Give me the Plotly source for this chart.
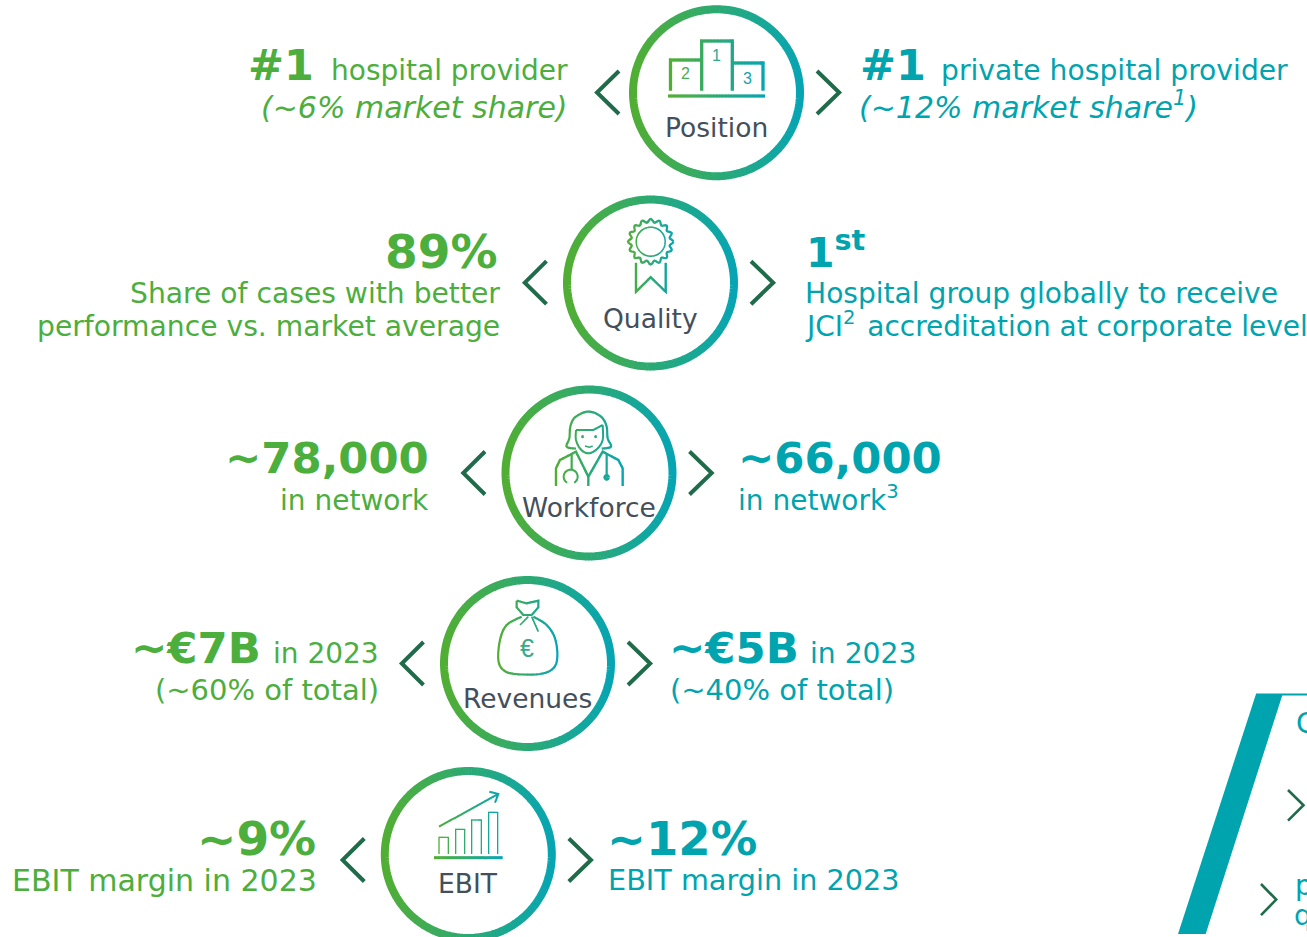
import math
import plotly.graph_objects as go

# ---- content ----
circle_labels = ["Position", "Quality", "Workforce", "Revenues", "EBIT"]
left_heads = ["#1", "89%", "~78,000", "~€7B", "~9%"]
right_heads = ["#1", "1<sup>st</sup>", "~66,000", "~€5B", "~12%"]
left_line1 = ["hospital provider", "Share of cases with better", "in network", "in 2023", "EBIT margin in 2023"]
left_line2 = ["<i>(~6% market share)</i>", "performance vs. market average", "", "(~60% of total)", ""]
right_line1 = ["private hospital provider", "Hospital group globally to receive", "in network<sup>3</sup>", "in 2023", "EBIT margin in 2023"]
right_line2 = ["<i>(~12% market share<sup>1</sup>)</i>", "JCI<sup>2</sup>\u200a accreditation at corporate level", "", "(~40% of total)", ""]
podium_digits = ["1", "2", "3"]
panel_letters = ["C", "p", "q"]

# ---- layout constants ----
FONT = "DejaVu Sans"
GREEN, TEAL, DARK, GREY = "#4CAE3C", "#00A4AE", "#1F6B4A", "#434F5A"
centers = [(716.5, 92.7), (650.5, 283), (589, 473), (527.5, 663.5), (468.3, 854.5)]
chev_y = [92.5, 282.7, 473, 663.5, 860]
chev_left = [(-119.5, -97.5), (-125.7, -104), (-125.7, -104), (-125.7, -104), (-125.7, -104)]
lh_pos = [(315, 65), (499, 251), (430, 458), (262, 648), (317, 838)]
rh_pos = [(859, 65), (805, 250), (737, 458), (668, 648), (606, 839)]
l1_pos = [(569, 70), (501, 293), (430, 500), (380, 653), (318, 880)]
l2_pos = [(569, 107), (501, 326), None, (380, 690), None]
r1_pos = [(940, 70), (804, 293), (737, 498), (809, 653), (607, 880)]
r2_pos = [(858, 105), (804, 324), None, (669, 690), None]
label_y = [127, 318, 507, 698, 883]
left_head_size = [43, 47, 43.4, 43.4, 47]
right_head_size = [43, 41, 43.4, 43.4, 46.5]
left_l1_size = [28, 28.2, 28, 28, 30]
right_l1_size = [28.2, 28.1, 28, 28.2, 28.7]
left_l2_size = [30, 28.2, 28, 29, 28]
right_l2_size = [30, 28, 28, 29, 28]

C0, C1 = (82, 174, 50), (5, 165, 180)
BINS = 48
buckets = {}


def color(i):
    t = i / (BINS - 1)
    return "rgb(%d,%d,%d)" % tuple(round(a + (b - a) * t) for a, b in zip(C0, C1))


def stroke(points, width, x0, x1):
    """Polyline with a left-to-right gradient, one continuous sub-path per colour bin."""
    def flush(run, i):
        if i is not None and len(run) > 1:
            d = "M" + " L".join("%.2f %.2f" % p for p in run)
            buckets.setdefault((i, width), []).append(d)

    cur_i, run = None, []
    for (ax, ay), (bx, by) in zip(points, points[1:]):
        length = math.hypot(bx - ax, by - ay)
        if length == 0:
            continue
        n = max(1, int(length / 3))
        ux, uy = (bx - ax) / length, (by - ay) / length
        for k in range(n):
            p = (ax + (bx - ax) * k / n, ay + (by - ay) * k / n)
            q = (ax + (bx - ax) * (k + 1) / n, ay + (by - ay) * (k + 1) / n)
            t = ((p[0] + q[0]) / 2 - x0) / (x1 - x0)
            i = min(BINS - 1, max(0, int(t * BINS)))
            if i != cur_i:
                if run:
                    run.append((p[0] + ux * 0.5, p[1] + uy * 0.5))
                flush(run, cur_i)
                cur_i, run = i, [p]
            run.append(q)
    flush(run, cur_i)


def arc(cx, cy, r, a0=0, a1=360, n=90):
    return [(cx + r * math.cos(math.radians(a0 + (a1 - a0) * k / n)),
             cy + r * math.sin(math.radians(a0 + (a1 - a0) * k / n))) for k in range(n + 1)]


def zoom(points, ox, oy):
    return [(ox + x / 3, oy + y / 3) for x, y in points]


def smooth(points, steps=6):
    """Catmull-Rom rounding of a hand-placed outline."""
    pts = [points[0]] + list(points) + [points[-1]]
    out = []
    for a, b, c, d in zip(pts, pts[1:], pts[2:], pts[3:]):
        for s in range(steps):
            t = s / steps
            out.append(tuple(0.5 * (2 * b[j] + (c[j] - a[j]) * t + (2 * a[j] - 5 * b[j] + 4 * c[j] - d[j]) * t * t
                                    + (3 * b[j] - a[j] - 3 * c[j] + d[j]) * t ** 3) for j in (0, 1)))
    out.append(points[-1])
    return out


shapes = []


def chevrons(cx, y, left):
    for tip, arm in ((cx + left[0], cx + left[1]), (cx + 122.7, cx + 100.5)):
        shapes.append(dict(type="path", xref="x", yref="y", layer="above",
                           path=f"M{arm} {y - 21.5} L{tip} {y} L{arm} {y + 21.5}",
                           line=dict(color=DARK, width=4), fillcolor="rgba(0,0,0,0)"))


for (cx, cy), yc, lf in zip(centers, chev_y, chev_left):
    stroke(arc(cx, cy, 83.5, n=180), 8, cx - 87.5, cx + 87.5)
    chevrons(cx, yc, lf)

# Position icon: podium
x0, x1 = 668, 765
stroke([(670.5, 90.7), (670.5, 60), (701.7, 60)], 3.3, x0, x1)
stroke([(701.7, 90.7), (701.7, 41), (732.3, 41), (732.3, 90.7)], 3.3, x0, x1)
stroke([(732.3, 63), (763, 63), (763, 90.7)], 3.3, x0, x1)
stroke([(668, 96), (765, 96)], 3.2, x0, x1)

# Quality icon: rosette
cx, cy = 650.7, 241.7
x0, x1 = cx - 24, cx + 24
scallop = [(cx + (21 + 1.7 * math.cos(math.radians(16 * a))) * math.cos(math.radians(a)),
            cy + (21 + 1.7 * math.cos(math.radians(16 * a))) * math.sin(math.radians(a)))
           for a in range(0, 361, 3)]
stroke(scallop, 2.2, x0, x1)
stroke(arc(cx, cy, 14.5), 1.5, x0, x1)
stroke([(636, 262.7), (636, 291.7), (650.7, 277.3), (665.7, 291.7), (665.7, 262.7)], 2.4, x0, x1)

# Workforce icon: doctor
ox, oy = 450, 380
x0, x1 = 450 + 318 / 3, 450 + 518 / 3
stroke(zoom(smooth([(378, 206), (350, 200), (358, 175), (361, 140), (372, 115), (395, 100), (415, 95), (437, 100),
                    (458, 115), (470, 140), (473, 175), (483, 200), (455, 206)]), ox, oy), 2.2, x0, x1)
stroke(zoom(smooth([(378, 150), (378, 180), (392, 208), (415, 220), (440, 208), (458, 180), (458, 135)]), ox, oy), 2, x0, x1)
for pts, w in (
    ([(458, 135), (430, 150), (378, 150)], 2),
    ([(405, 198), (418, 202), (428, 198)], 1.5),
    ([(318, 318), (318, 265), (330, 240), (378, 215), (415, 290), (458, 215), (505, 240), (518, 265), (518, 318)], 2.4),
    ([(415, 290), (415, 318)], 2.4),
    ([(365, 225), (365, 268)], 2.2),
    ([(470, 225), (470, 285)], 2.2),
):
    stroke(zoom(pts, ox, oy), w, x0, x1)
stroke(arc(450 + 362 / 3, 380 + 290 / 3, 7, 120, 420, 30), 2, x0, x1)
stroke(arc(450 + 470 / 3, 380 + 292 / 3, 1.8, n=20), 3, x0, x1)
stroke(arc(450 + 398 / 3, 380 + 170 / 3, 0.7, n=8), 1.6, x0, x1)
stroke(arc(450 + 437 / 3, 380 + 170 / 3, 0.7, n=8), 1.6, x0, x1)

# Revenues icon: money bag
ox, oy = 390, 570
x0, x1 = 390 + 325 / 3, 390 + 502 / 3
stroke(zoom(smooth([(395, 140), (350, 165), (330, 210), (325, 270), (340, 300), (375, 312), (450, 312), (490, 295),
                    (502, 260), (495, 205), (470, 165), (430, 140)]), ox, oy), 2.2, x0, x1)
for pts, w in (
    ([(380, 92), (410, 100), (445, 92), (445, 112), (425, 135), (400, 135), (380, 112), (380, 92)], 2.2),
    ([(415, 140), (390, 165)], 1.6),
    ([(425, 140), (445, 185)], 1.6),
):
    stroke(zoom(pts, ox, oy), w, x0, x1)

# EBIT icon: bars and arrow
ox, oy = 330, 760
x0, x1 = 330 + 312 / 3, 330 + 518 / 3
for pts, w in (
    ([(327, 282), (327, 232), (355, 232), (355, 282)], 1.3),
    ([(377, 282), (377, 208), (404, 208), (404, 282)], 1.3),
    ([(425, 282), (425, 180), (454, 180), (454, 282)], 1.3),
    ([(476, 282), (476, 157), (503, 157), (503, 282)], 1.3),
    ([(312, 293), (518, 293)], 3),
    ([(327, 200), (505, 102)], 2),
    ([(478, 95), (505, 102), (495, 128)], 2),
):
    stroke(zoom(pts, ox, oy), w, x0, x1)

for (i, w), parts in sorted(buckets.items()):
    shapes.append(dict(type="path", xref="x", yref="y", layer="above", path=" ".join(parts),
                       line=dict(color=color(i), width=w), fillcolor="rgba(0,0,0,0)"))

# Right-hand panel fragment
shapes.append(dict(type="path", xref="x", yref="y", path="M1256 694 L1282.7 694 L1205.7 934 L1178 934 Z",
                   fillcolor=TEAL, line=dict(width=0)))
shapes.append(dict(type="line", xref="x", yref="y", x0=1256, x1=1307, y0=694.5, y1=694.5,
                   line=dict(color=TEAL, width=2)))
for ax, ay, tx, ty in ((1288, 790, 1303.5, 805.3), (1261, 884, 1276.2, 899.6)):
    shapes.append(dict(type="path", xref="x", yref="y", fillcolor="rgba(0,0,0,0)",
                       path=f"M{ax} {ay} L{tx} {ty} L{ax} {2 * ty - ay}",
                       line=dict(color=DARK, width=2.6)))

annotations = []


def text(s, x, y, anchor, size, col, bold=False, fam=FONT):
    if not s:
        return
    annotations.append(dict(text=f"<b>{s}</b>" if bold else s, x=x, y=y, xref="x", yref="y",
                            xanchor=anchor, yanchor="middle", showarrow=False, align=anchor,
                            font=dict(family=fam, size=size, color=col), borderpad=0))


for k in range(5):
    text(left_heads[k], *lh_pos[k], "right", left_head_size[k], GREEN, True)
    text(right_heads[k], *rh_pos[k], "left", right_head_size[k], TEAL, True)
    text(left_line1[k], *l1_pos[k], "right", left_l1_size[k], GREEN)
    text(right_line1[k], *r1_pos[k], "left", right_l1_size[k], TEAL)
    if l2_pos[k]:
        text(left_line2[k], *l2_pos[k], "right", left_l2_size[k], GREEN)
        text(right_line2[k], *r2_pos[k], "left", right_l2_size[k], TEAL)
    text(circle_labels[k], centers[k][0], label_y[k], "center", 26.5, GREY)

for d, x, y, col in zip(podium_digits, (716.5, 685.5, 747), (55, 73, 78), ("#2FA98F", "#48AD55", "#10A6AC")):
    text(d, x, y, "center", 16, col, fam="Liberation Sans")
text("€", 527, 648, "center", 25, "#38AB86", fam="Liberation Sans")
for s, x, y in zip(panel_letters, (1295, 1294, 1293), (723, 885, 915)):
    text(s, x, y, "left", 28, TEAL)

fig = go.Figure()
fig.update_layout(
    width=1307, height=937, margin=dict(l=0, r=0, t=0, b=0), showlegend=False,
    paper_bgcolor="white", plot_bgcolor="white",
    xaxis=dict(range=[0, 1307], visible=False, fixedrange=True),
    yaxis=dict(range=[937, 0], visible=False, fixedrange=True),
    shapes=shapes, annotations=annotations,
)
fig.write_html("out.html", config=dict(displayModeBar=False),
               post_script="document.body.style.margin='0';document.body.style.overflow='hidden';")
